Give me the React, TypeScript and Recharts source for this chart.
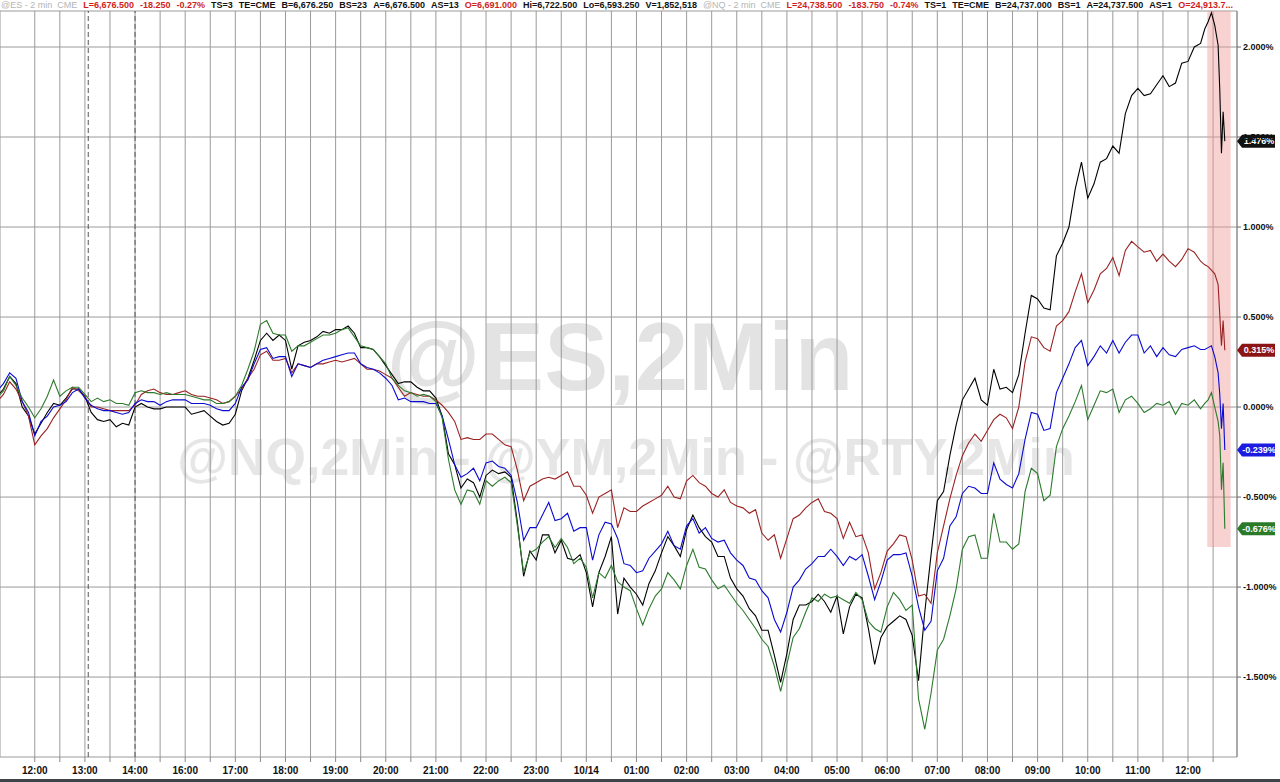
import {
  LineChart,
  Line,
  XAxis,
  YAxis,
  CartesianGrid,
  ReferenceLine,
  ReferenceArea,
  ReferenceDot,
} from "recharts";

const CHART_W = 1280;
const CHART_H = 782;
const AXIS_W = 43;
const PLOT_RIGHT = CHART_W - AXIS_W;
const FONT = '"Liberation Sans", Arial, sans-serif';

// hour labels, one per trading hour starting at 12:00 (15:00 is the session break)
const hourLabels = [
  "12:00", "13:00", "14:00", "16:00", "17:00", "18:00", "19:00", "20:00",
  "21:00", "22:00", "23:00", "10/14", "01:00", "02:00", "03:00", "04:00",
  "05:00", "06:00", "07:00", "08:00", "09:00", "10:00", "11:00", "12:00",
];

// trading minutes since 11:00 (session break removed)
const quarterMinutes = Array.from({ length: 97 }, (_, i) => 15 + 15 * i); // on :00 :15 :30 :45
const betweenMinutes = Array.from({ length: 96 }, (_, i) => 22.5 + 15 * i); // halfway between
const tailMinutes = [1460, 1464, 1468, 1472, 1476, 1478, 1480, 1482, 1484];

// % change from start, black line
const blackQuarter = [
  0.06, 0.17, 0.0, -0.15, -0.03, 0.01, 0.1, 0.06, -0.07, -0.07,
  -0.09, 0.0, 0.0, -0.01, 0.0, 0.0, -0.03, -0.05, -0.1, -0.04,
  0.16, 0.37, 0.37, 0.37, 0.34, 0.37, 0.42, 0.43, 0.45, 0.33,
  0.32, 0.23, 0.13, 0.14, 0.09, 0.05, -0.26, -0.45, -0.42, -0.38,
  -0.37, -0.39, -0.94, -0.85, -0.71, -0.74, -0.85, -0.92, -0.92, -0.72,
  -0.95, -1.04, -0.98, -0.81, -0.77, -0.68, -0.67, -0.75, -0.83, -1.01,
  -1.12, -1.24, -1.38, -1.37, -1.1, -1.08, -1.08, -1.05, -1.11, -1.06,
  -1.43, -1.22, -1.16, -1.27, -1.14, -0.52, -0.27, 0.04, 0.16, 0.01,
  0.1, 0.08, 0.41, 0.6, 0.54, 0.91, 1.21, 1.16, 1.36, 1.45,
  1.63, 1.77, 1.74, 1.84, 1.8, 1.92, 2.02,
];
const blackBetween = [
  0.1, 0.13, -0.05, -0.09, 0.02, 0.05, 0.1, -0.03, -0.08, -0.11,
  -0.1, 0.02, -0.01, 0.0, 0.0, -0.04, -0.02, -0.08, -0.09, 0.09,
  0.26, 0.41, 0.4, 0.21, 0.36, 0.39, 0.41, 0.43, 0.41, 0.33,
  0.28, 0.18, 0.14, 0.11, 0.09, -0.05, -0.32, -0.4, -0.5, -0.35,
  -0.36, -0.64, -0.8, -0.71, -0.81, -0.84, -0.82, -1.11, -0.83, -1.15,
  -1.0, -1.1, -0.91, -0.72, -0.83, -0.6, -0.72, -0.83, -0.95, -1.05,
  -1.16, -1.24, -1.53, -1.18, -1.1, -1.04, -1.14, -1.26, -1.04, -1.23,
  -1.28, -1.19, -1.18, -1.52, -0.82, -0.47, -0.1, 0.1, 0.04, 0.21,
  0.11, 0.18, 0.62, 0.55, 0.84, 1.0, 1.36, 1.24, 1.38, 1.41,
  1.73, 1.73, 1.79, 1.78, 1.91, 2.0,
];
const blackTail = [2.1, 2.14, 2.19, 2.12, 2.01, 1.76, 1.41, 1.64, 1.476];

// dark red line
const redQuarter = [
  0.03, 0.14, 0.03, -0.21, -0.12, -0.01, 0.11, 0.06, 0.0, -0.02,
  -0.02, 0.01, 0.09, 0.08, 0.07, 0.09, 0.06, 0.05, 0.02, 0.06,
  0.16, 0.29, 0.26, 0.27, 0.24, 0.22, 0.24, 0.26, 0.26, 0.24,
  0.21, 0.18, 0.11, 0.08, 0.06, 0.04, -0.03, -0.18, -0.18, -0.15,
  -0.18, -0.22, -0.52, -0.42, -0.39, -0.38, -0.44, -0.49, -0.5, -0.46,
  -0.56, -0.58, -0.53, -0.49, -0.5, -0.41, -0.42, -0.48, -0.46, -0.55,
  -0.59, -0.7, -0.71, -0.73, -0.6, -0.53, -0.58, -0.62, -0.64, -0.71,
  -1.01, -0.8, -0.71, -0.85, -1.04, -0.81, -0.51, -0.27, -0.15, -0.13,
  -0.04, -0.12, 0.25, 0.38, 0.31, 0.48, 0.64, 0.58, 0.74, 0.83,
  0.87, 0.89, 0.87, 0.85, 0.78, 0.88, 0.81,
];
const redBetween = [
  0.07, 0.1, -0.05, -0.16, -0.06, 0.04, 0.09, 0.0, -0.01, -0.02,
  -0.02, 0.07, 0.1, 0.07, 0.08, 0.07, 0.06, 0.04, 0.03, 0.1,
  0.21, 0.31, 0.26, 0.19, 0.23, 0.24, 0.25, 0.25, 0.27, 0.21,
  0.2, 0.16, 0.06, 0.07, 0.06, 0.01, -0.08, -0.17, -0.18, -0.15,
  -0.21, -0.35, -0.44, -0.4, -0.4, -0.36, -0.44, -0.59, -0.48, -0.67,
  -0.58, -0.55, -0.51, -0.44, -0.51, -0.38, -0.44, -0.5, -0.53, -0.56,
  -0.57, -0.74, -0.84, -0.62, -0.56, -0.51, -0.59, -0.73, -0.72, -0.81,
  -0.92, -0.76, -0.72, -1.05, -1.09, -0.66, -0.38, -0.2, -0.19, -0.07,
  -0.06, 0.0, 0.39, 0.33, 0.45, 0.53, 0.74, 0.65, 0.77, 0.73,
  0.92, 0.86, 0.81, 0.81, 0.82, 0.86,
];
const redTail = [0.79, 0.78, 0.76, 0.74, 0.68, 0.51, 0.34, 0.48, 0.315];

// blue line
const blueQuarter = [
  0.09, 0.19, 0.03, -0.16, -0.05, 0.01, 0.08, 0.05, -0.01, -0.02,
  -0.04, 0.02, 0.03, 0.01, 0.04, 0.04, 0.02, 0.01, -0.02, 0.02,
  0.15, 0.32, 0.27, 0.28, 0.24, 0.22, 0.26, 0.28, 0.3, 0.24,
  0.21, 0.16, 0.04, 0.03, 0.03, 0.02, -0.18, -0.39, -0.34, -0.31,
  -0.33, -0.38, -0.74, -0.67, -0.53, -0.62, -0.69, -0.67, -0.71, -0.65,
  -0.87, -0.92, -0.84, -0.76, -0.77, -0.66, -0.7, -0.73, -0.74, -0.85,
  -0.95, -1.02, -1.18, -1.14, -0.96, -0.87, -0.83, -0.83, -0.83, -0.82,
  -1.07, -0.85, -0.82, -0.94, -1.24, -0.91, -0.66, -0.48, -0.45, -0.48,
  -0.4, -0.45, -0.18, -0.04, -0.12, 0.16, 0.33, 0.23, 0.34, 0.37,
  0.36, 0.4, 0.34, 0.33, 0.28, 0.33, 0.32,
];
const blueBetween = [
  0.13, 0.16, -0.03, -0.08, 0.0, 0.03, 0.1, 0.01, -0.02, -0.03,
  -0.03, 0.04, 0.03, 0.03, 0.04, 0.02, 0.02, -0.01, -0.02, 0.11,
  0.24, 0.33, 0.28, 0.17, 0.23, 0.24, 0.27, 0.29, 0.3, 0.22,
  0.19, 0.12, 0.05, 0.03, 0.02, -0.05, -0.32, -0.37, -0.41, -0.3,
  -0.34, -0.53, -0.67, -0.6, -0.63, -0.59, -0.67, -0.85, -0.64, -0.73,
  -0.88, -0.91, -0.8, -0.69, -0.79, -0.62, -0.67, -0.75, -0.81, -0.88,
  -0.96, -1.06, -1.25, -1.0, -0.9, -0.83, -0.79, -0.88, -0.85, -0.94,
  -0.97, -0.82, -0.81, -1.11, -1.19, -0.84, -0.61, -0.44, -0.48, -0.31,
  -0.43, -0.37, -0.03, -0.13, 0.08, 0.24, 0.37, 0.28, 0.3, 0.3,
  0.4, 0.3, 0.28, 0.29, 0.32, 0.34,
];
const blueTail = [0.32, 0.33, 0.34, 0.28, 0.19, 0.07, -0.12, 0.02, -0.239];

// green line
const greenQuarter = [
  0.05, 0.17, 0.05, -0.06, 0.06, 0.06, 0.11, 0.07, 0.05, 0.04,
  0.02, 0.08, 0.08, 0.07, 0.07, 0.07, 0.05, 0.04, 0.02, 0.06,
  0.21, 0.46, 0.41, 0.4, 0.34, 0.36, 0.4, 0.41, 0.44, 0.34,
  0.32, 0.24, 0.12, 0.08, 0.07, 0.03, -0.29, -0.54, -0.47, -0.41,
  -0.41, -0.42, -0.92, -0.79, -0.72, -0.73, -0.87, -0.89, -0.92, -0.88,
  -1.0, -1.12, -1.12, -1.01, -0.96, -0.88, -0.89, -0.96, -0.99, -1.09,
  -1.18, -1.29, -1.44, -1.43, -1.23, -1.06, -1.04, -1.05, -1.09, -1.07,
  -1.23, -1.11, -1.07, -1.1, -1.79, -1.35, -1.16, -0.79, -0.71, -0.84,
  -0.75, -0.79, -0.47, -0.37, -0.49, -0.12, 0.03, -0.07, 0.09, 0.1,
  0.04, 0.02, -0.01, 0.01, -0.04, 0.01, -0.01,
];
const greenBetween = [
  0.09, 0.12, 0.0, -0.01, 0.15, 0.09, 0.11, 0.03, 0.03, 0.02,
  0.01, 0.09, 0.08, 0.08, 0.07, 0.06, 0.04, 0.02, 0.03, 0.12,
  0.31, 0.48, 0.4, 0.31, 0.34, 0.38, 0.4, 0.43, 0.39, 0.33,
  0.28, 0.16, 0.09, 0.06, 0.06, -0.06, -0.46, -0.46, -0.54, -0.44,
  -0.39, -0.66, -0.81, -0.75, -0.78, -0.78, -0.84, -1.06, -0.95, -0.97,
  -1.02, -1.21, -1.05, -0.92, -1.01, -0.79, -0.9, -1.01, -1.04, -1.13,
  -1.23, -1.33, -1.58, -1.28, -1.14, -1.08, -1.06, -1.07, -1.03, -1.19,
  -1.25, -1.03, -1.13, -1.62, -1.59, -1.29, -1.01, -0.72, -0.84, -0.59,
  -0.75, -0.76, -0.34, -0.52, -0.22, -0.05, 0.12, 0.01, 0.08, -0.03,
  0.06, -0.03, 0.02, 0.03, 0.02, 0.04,
];
const greenTail = [0.02, 0.04, 0.08, 0.0, -0.08, -0.16, -0.46, -0.31, -0.676];

const yTicks = [-1.5, -1, -0.5, 0, 0.5, 1, 1.5, 2];
const gridTicks = Array.from({ length: 48 }, (_, i) => 60 + 30 * i);

const series = [
  { key: "black", color: "#000000", last: 1.476, badge: "#111111" },
  { key: "red", color: "#9b2222", last: 0.315, badge: "#8b1414" },
  { key: "blue", color: "#0a0ad0", last: -0.239, badge: "#1c1ce0" },
  { key: "green", color: "#2c7a2c", last: -0.676, badge: "#2a7a2a" },
];

const GRAY = "#b5b5b5";
const RED = "#d01e1e";
const INK = "#111";
// quote bar: [text, colour, bold]
const headerItems: [string, string, boolean][] = [
  ["@ES - 2 min  CME", GRAY, false],
  ["L=6,676.500", RED, true],
  ["-18.250", RED, true],
  ["-0.27%", RED, true],
  ["TS=3", INK, true],
  ["TE=CME", INK, true],
  ["B=6,676.250", INK, true],
  ["BS=23", INK, true],
  ["A=6,676.500", INK, true],
  ["AS=13", INK, true],
  ["O=6,691.000", RED, true],
  ["Hi=6,722.500", INK, true],
  ["Lo=6,593.250", INK, true],
  ["V=1,852,518", INK, true],
  ["@NQ - 2 min  CME", GRAY, false],
  ["L=24,738.500", RED, true],
  ["-183.750", RED, true],
  ["-0.74%", RED, true],
  ["TS=1", INK, true],
  ["TE=CME", INK, true],
  ["B=24,737.000", INK, true],
  ["BS=1", INK, true],
  ["A=24,737.500", INK, true],
  ["AS=1", INK, true],
  ["O=24,913.7...", RED, true],
];

const data: any[] = [];
quarterMinutes.forEach((t, i) => {
  data.push({ t, black: blackQuarter[i], red: redQuarter[i], blue: blueQuarter[i], green: greenQuarter[i] });
  if (i < betweenMinutes.length) {
    data.push({
      t: betweenMinutes[i],
      black: blackBetween[i],
      red: redBetween[i],
      blue: blueBetween[i],
      green: greenBetween[i],
    });
  }
});
tailMinutes.forEach((t, i) => {
  data.push({ t, black: blackTail[i], red: redTail[i], blue: blueTail[i], green: greenTail[i] });
});

function hourLabel(t: number) {
  if (t % 60 !== 0) return "";
  return hourLabels[t / 60 - 1] ?? "";
}

function Badge(props: any) {
  const { cy, fill, text } = props;
  const x = PLOT_RIGHT;
  const h = 6.5;
  return (
    <g>
      <path
        d={`M${x},${cy} L${x + 5},${cy - h} L${x + 38},${cy - h} L${x + 38},${cy + h} L${x + 5},${cy + h} Z`}
        fill={fill}
      />
      <text
        x={x + 22}
        y={cy}
        dy="0.35em"
        textAnchor="middle"
        fill="#fff"
        fontSize={9}
        fontWeight="bold"
        fontFamily={FONT}
      >
        {text}
      </text>
    </g>
  );
}

export default function App() {
  return (
    <div style={{ position: "absolute", left: 0, top: 0, width: CHART_W, height: CHART_H, background: "#fff" }}>
      <svg width={CHART_W} height={CHART_H} style={{ position: "absolute", left: 0, top: 0 }}>
        <text x={620} y={390} textAnchor="middle" fontSize={96} fontWeight="bold" fill="#e3e3e3" fontFamily={FONT}>
          @ES,2Min
        </text>
        <text x={626} y={475} textAnchor="middle" fontSize={52} fontWeight="bold" fill="#e6e6e6" fontFamily={FONT}>
          @NQ,2Min - @YM,2Min - @RTY,2Min
        </text>
      </svg>

      <div style={{ position: "absolute", left: 0, top: 0 }}>
        <LineChart
          width={CHART_W}
          height={CHART_H}
          data={data}
          margin={{ top: 11, right: 0, bottom: 0, left: 0 }}
        >
          <CartesianGrid stroke="#9a9a9a" strokeWidth={1} />
          <XAxis
            type="number"
            dataKey="t"
            domain={[18.4, 1498.6]}
            allowDataOverflow
            ticks={gridTicks}
            interval={0}
            tickFormatter={hourLabel}
            height={25}
            axisLine={false}
            tickLine={{ stroke: "#888" }}
            tickSize={5}
            tickMargin={5}
            tick={{ fontSize: 10, fontWeight: "bold", fill: "#111", fontFamily: FONT }}
          />
          <YAxis
            orientation="right"
            width={AXIS_W}
            domain={[-1.944, 2.2]}
            allowDataOverflow
            ticks={yTicks}
            interval={0}
            tickFormatter={(v: number) => `${v.toFixed(3)}%`}
            axisLine={{ stroke: "#888" }}
            tickLine={{ stroke: "#666" }}
            tickSize={4}
            tickMargin={2}
            tick={{ fontSize: 9, fontWeight: "bold", fill: "#111", fontFamily: FONT }}
          />
          <ReferenceLine x={124} stroke="#555" strokeDasharray="5 3" />
          <ReferenceLine x={180} stroke="#555" strokeDasharray="5 3" />
          <ReferenceArea
            x1={1463}
            x2={1491}
            y1={-0.778}
            y2={2.2}
            fill="#ef9a9a"
            fillOpacity={0.45}
            stroke="none"
          />
          {series.map((s) => (
            <Line
              key={s.key}
              type="linear"
              dataKey={s.key}
              stroke={s.color}
              strokeWidth={1.1}
              dot={false}
              isAnimationActive={false}
            />
          ))}
          {series.map((s) => (
            <ReferenceDot
              key={`badge-${s.key}`}
              x={tailMinutes[tailMinutes.length - 1]}
              y={s.last}
              r={0}
              ifOverflow="visible"
              shape={(p: any) => <Badge {...p} fill={s.badge} text={`${s.last.toFixed(3)}%`} />}
            />
          ))}
        </LineChart>
      </div>

      <div
        style={{
          position: "absolute",
          left: 1,
          top: 0,
          width: PLOT_RIGHT,
          height: 11,
          overflow: "hidden",
          display: "flex",
          gap: 6,
          fontFamily: FONT,
          fontSize: 9,
          lineHeight: "10px",
          whiteSpace: "pre",
        }}
      >
        {headerItems.map(([txt, color, bold], i) => (
          <span key={i} style={{ color, fontWeight: bold ? "bold" : "normal", flex: "none" }}>
            {txt}
          </span>
        ))}
      </div>

      <div style={{ position: "absolute", left: 0, top: 779, width: CHART_W, height: 3, background: "#3d4349" }} />
    </div>
  );
}
